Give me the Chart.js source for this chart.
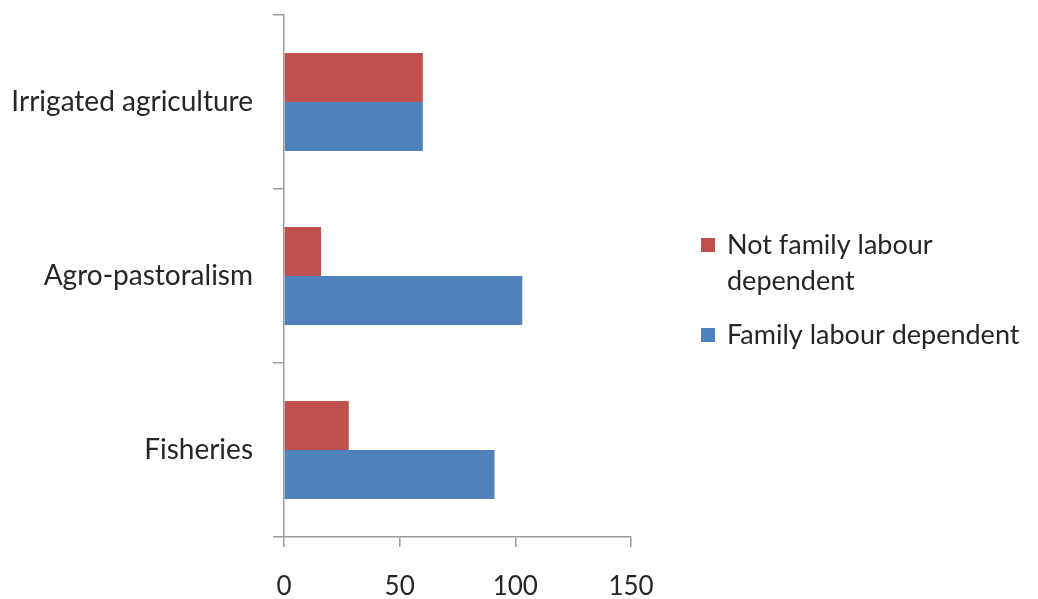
<!DOCTYPE html>
<html>
<head>
<meta charset="utf-8">
<script src="https://cdn.jsdelivr.net/npm/chart.js@4"></script>
<style>
  html, body { margin: 0; padding: 0; background: #ffffff; }
  #wrap { width: 1038px; height: 599px; position: relative; }
</style>
</head>
<body>
<div id="wrap"><canvas id="chart" width="1038" height="599"></canvas></div>
<script>
// Livelihood systems and their dependence on family labour
const categories = ['Irrigated agriculture', 'Agro-pastoralism', 'Fisheries'];
const notFamilyLabour = [60, 16, 28];
const familyLabour = [60, 103, 91];
const seriesNames = ['Not family labour dependent', 'Family labour dependent'];
const legendLines = [['Not family labour', 'dependent'], ['Family labour dependent']];
const xTicks = [0, 50, 100, 150];

const RED = '#C0504D';
const BLUE = '#4F81BD';
const AXIS = '#9a9a9a';
const TEXT = '#262626';
const FONT = 'Lato, "Open Sans", sans-serif';

// Legend drawn at the right of the plot, with wrapped labels
const sideLegend = {
  id: 'sideLegend',
  afterDraw(chart) {
    const ctx = chart.ctx;
    ctx.save();
    ctx.font = '27px ' + FONT;
    ctx.textBaseline = 'middle';
    ctx.textAlign = 'left';
    const entries = [
      { color: chart.data.datasets[0].backgroundColor, lines: legendLines[0], y: 245 },
      { color: chart.data.datasets[1].backgroundColor, lines: legendLines[1], y: 335 }
    ];
    entries.forEach(e => {
      ctx.fillStyle = e.color;
      ctx.fillRect(701, e.y - 7, 14, 14);
      ctx.fillStyle = TEXT;
      e.lines.forEach((t, i) => ctx.fillText(t, 727, e.y + i * 36));
    });
    ctx.restore();
  }
};

new Chart(document.getElementById('chart'), {
  type: 'bar',
  data: {
    labels: categories,
    datasets: [
      { label: seriesNames[0], data: notFamilyLabour, backgroundColor: RED, borderWidth: 0 },
      { label: seriesNames[1], data: familyLabour, backgroundColor: BLUE, borderWidth: 0 }
    ]
  },
  options: {
    indexAxis: 'y',
    responsive: false,
    animation: false,
    devicePixelRatio: 1,
    categoryPercentage: 0.563,
    barPercentage: 1,
    layout: { padding: { top: 15, right: 407, left: 0, bottom: 0 } },
    plugins: {
      legend: { display: false },
      tooltip: { enabled: false }
    },
    scales: {
      x: {
        type: 'linear',
        min: 0,
        max: 150,
        afterBuildTicks(scale) { scale.ticks = xTicks.map(v => ({ value: v })); },
        afterFit(scale) { scale.height = 62; },
        border: { display: true, color: AXIS, width: 1.5 },
        grid: { drawOnChartArea: false, drawTicks: true, tickLength: 10, color: AXIS, lineWidth: 1.5 },
        ticks: { color: TEXT, font: { family: FONT, size: 26 }, padding: 24, maxRotation: 0 }
      },
      y: {
        type: 'category',
        afterFit(scale) {
          scale.width = 284;
          scale.paddingTop = 0;
          scale.paddingBottom = 0;
        },
        border: { display: true, color: AXIS, width: 1.5 },
        grid: { offset: true, drawOnChartArea: false, drawTicks: true, tickLength: 11, color: AXIS, lineWidth: 1.5 },
        ticks: { color: TEXT, font: { family: FONT, size: 28 }, padding: 20 }
      }
    }
  },
  plugins: [sideLegend]
});
</script>
</body>
</html>
